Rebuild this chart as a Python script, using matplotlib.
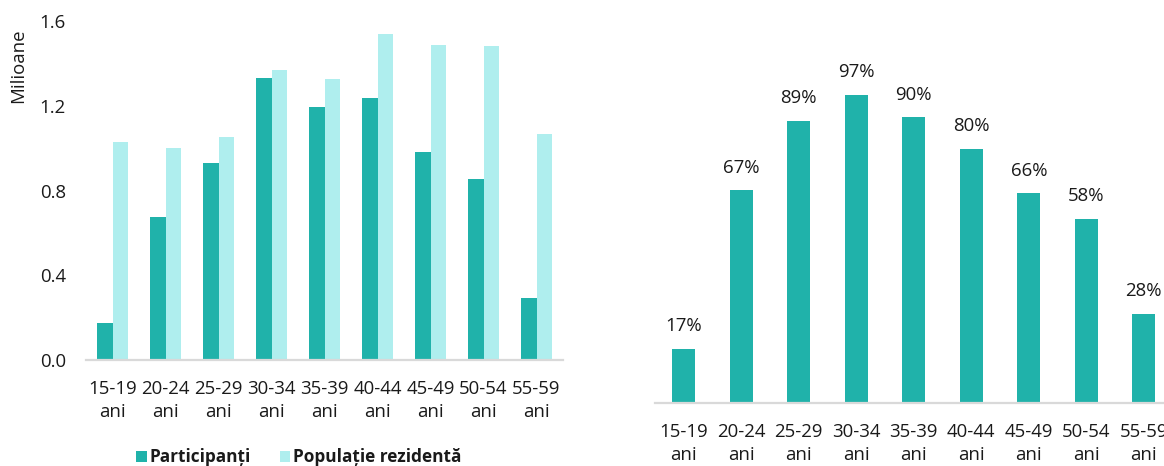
import matplotlib
matplotlib.use("Agg")
import matplotlib.pyplot as plt
from matplotlib.patches import Patch
import numpy as np

plt.rcParams['font.family'] = ['Open Sans', 'DejaVu Sans']

categories = ["15-19\nani", "20-24\nani", "25-29\nani", "30-34\nani", "35-39\nani",
              "40-44\nani", "45-49\nani", "50-54\nani", "55-59\nani"]
participanti = [0.173, 0.674, 0.932, 1.331, 1.194, 1.235, 0.984, 0.854, 0.291]
populatie = [1.027, 1.002, 1.054, 1.367, 1.326, 1.540, 1.485, 1.483, 1.066]
rata = [17, 67, 89, 97, 90, 80, 66, 58, 28]
yticks_left = [0.0, 0.4, 0.8, 1.2, 1.6]
legend_labels = ["Participanți", "Populație rezidentă"]

C_DARK = "#20B2AA"
C_LIGHT = "#AFEEEE"
AXIS_C = "#D9D9D9"
TXT = "#1a1a1a"
FS = 13.4

W, H = 1164, 466
fig = plt.figure(figsize=(W / 100, H / 100), dpi=100)

# Left chart
axL = fig.add_axes([86 / W, (H - 360) / H, 477 / W, 339 / H])
x = np.arange(len(categories))
bw = 0.29
axL.bar(x - bw / 2, participanti, bw, color=C_DARK)
axL.bar(x + bw / 2, populatie, bw, color=C_LIGHT)
axL.set_xlim(-0.5, len(categories) - 0.5)
axL.set_ylim(0, 1.6)
axL.set_yticks(yticks_left)
axL.set_yticklabels([f"{v:.1f}" for v in yticks_left])
axL.set_xticks(x)
axL.set_xticklabels(categories, linespacing=1.32)
for s in ["top", "right", "left"]:
    axL.spines[s].set_visible(False)
axL.spines["bottom"].set_color(AXIS_C)
axL.spines["bottom"].set_linewidth(1.6)
axL.tick_params(axis="y", length=0, pad=14.4, labelsize=FS, labelcolor=TXT)
axL.tick_params(axis="x", length=0, pad=14.5, labelsize=FS, labelcolor=TXT)
fig.text(18 / W, 1 - 66 / H, "Milioane", rotation=90, ha="center", va="center",
         fontsize=FS, color=TXT)

handles = [Patch(facecolor=C_DARK), Patch(facecolor=C_LIGHT)]
fig.legend(handles, legend_labels, loc="center",
           bbox_to_anchor=(299 / W, (H - 457.5) / H), ncol=2, frameon=False,
           prop={"size": 12.4, "weight": "bold"}, handlelength=0.6, handleheight=0.55,
           handletextpad=0.17, columnspacing=1.7, borderpad=0, labelcolor=TXT)

# Right chart
top_px = 20
axR = fig.add_axes([655 / W, (H - 402.7) / H, 9 * 57.5 / W, (402.7 - top_px) / H])
axR.bar(x, rata, 0.4, color=C_DARK)
axR.set_xlim(-0.5, len(categories) - 0.5)
axR.set_ylim(0, (402.7 - top_px) / 3.17)
axR.set_yticks([])
axR.set_xticks(x)
axR.set_xticklabels(categories, linespacing=1.4)
for s in ["top", "right", "left"]:
    axR.spines[s].set_visible(False)
axR.spines["bottom"].set_color(AXIS_C)
axR.spines["bottom"].set_linewidth(1.6)
axR.tick_params(axis="x", length=0, pad=14.3, labelsize=FS, labelcolor=TXT)
for xi, v in zip(x, rata):
    axR.annotate(f"{v}%", (xi, v), xytext=(0, 16.4), textcoords="offset points",
                 ha="center", va="center", fontsize=FS, color=TXT)

fig.savefig("out.png", dpi=100)
